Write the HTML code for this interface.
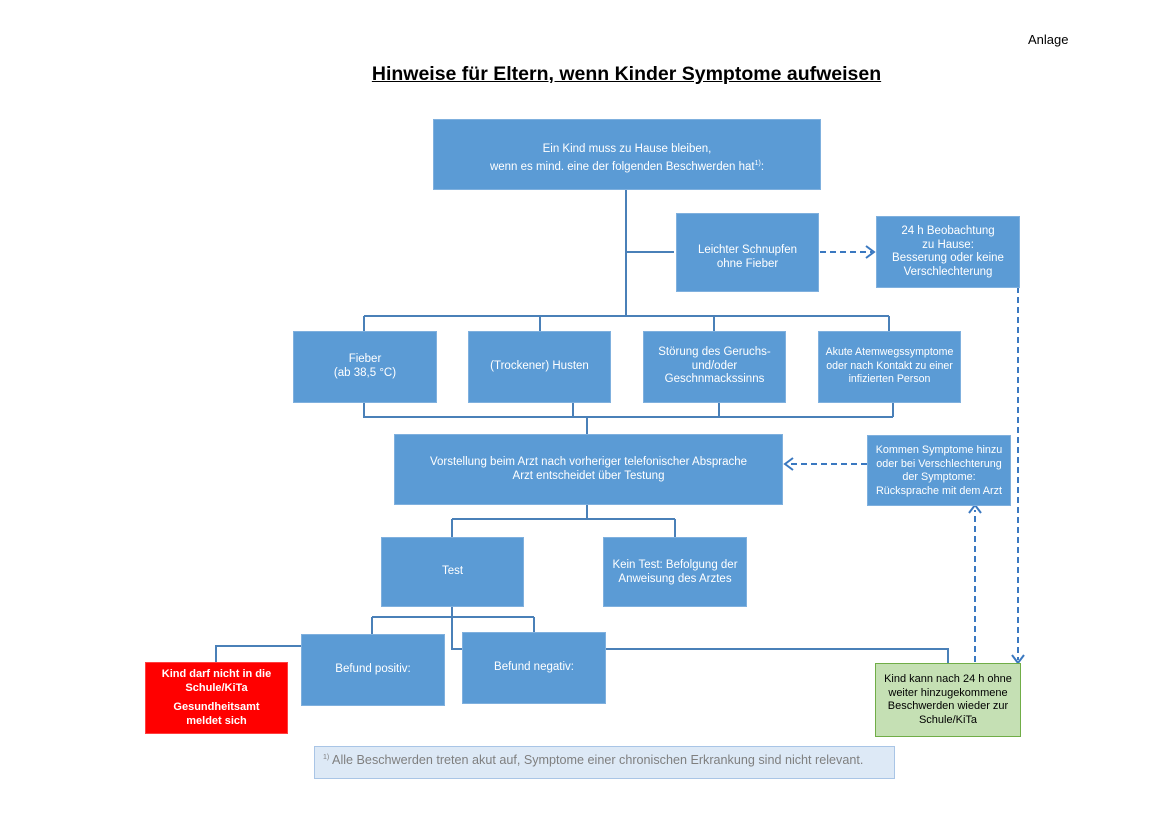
<!DOCTYPE html>
<html><head><meta charset="utf-8"><style>
body{margin:0;width:1169px;height:826px;background:#fff;position:relative;font-family:"Liberation Sans",sans-serif;overflow:hidden}
.b{position:absolute;background:#5b9bd5;border:1px solid #7fb0de;box-sizing:border-box;color:#fff;font-size:11.5px;line-height:13.5px;text-align:center;white-space:nowrap}
svg{position:absolute;left:0;top:0}
</style></head><body>
<div style="position:absolute;left:1028px;top:32px;font-size:13px">Anlage</div>
<div style="position:absolute;left:0;width:1253px;top:63px;text-align:center;font-size:19.5px;font-weight:bold;text-decoration:underline">Hinweise für Eltern, wenn Kinder Symptome aufweisen</div>
<svg width="1169" height="826">
<g stroke="#4a80b8" stroke-width="2" fill="none">
<path d="M626 189V316M626 252H674M364 316H889M364 316V331M540 316V331M714 316V331M889 316V331"/>
<path d="M364 402V417H893M573 402V417M719 402V417M893 402V417M587 417V434"/>
<path d="M587 504V519M452 519H675M452 519V537M675 519V537"/>
<path d="M452 606V649H462M372 617H534M372 617V634M534 617V632"/>
<path d="M301 646H216V662M605 649H948V663"/>
</g>
<g stroke="#3a78c0" stroke-width="2" fill="none" stroke-dasharray="6,4">
<path d="M820 252H872"/>
<path d="M1018 287V660"/>
<path d="M975 662V510"/>
<path d="M867 464H788"/>
</g>
<g stroke="#3a78c0" stroke-width="2" fill="none">
<path d="M866 246L874 252L866 258"/>
<path d="M1012 655L1018 663L1024 655"/>
<path d="M969 513L975 505L981 513"/>
<path d="M793 458L785 464L793 470"/>
</g>
</svg>
<div class="b" style="left:433px;top:119px;width:388px;height:71px;padding-top:23px">Ein Kind muss zu Hause bleiben,<br>wenn es mind. eine der folgenden Beschwerden hat<sup style="font-size:7px">1)</sup>:</div>
<div class="b" style="left:676px;top:213px;width:143px;height:79px;padding-top:30px">Leichter Schnupfen<br>ohne Fieber</div>
<div class="b" style="left:876px;top:216px;width:144px;height:72px;padding-top:8px">24 h Beobachtung<br>zu Hause:<br>Besserung oder keine<br>Verschlechterung</div>
<div class="b" style="left:293px;top:331px;width:144px;height:72px;padding-top:21px">Fieber<br>(ab 38,5 °C)</div>
<div class="b" style="left:468px;top:331px;width:143px;height:72px;padding-top:28px">(Trockener) Husten</div>
<div class="b" style="left:643px;top:331px;width:143px;height:72px;padding-top:14px">Störung des Geruchs-<br>und/oder<br>Geschnmackssinns</div>
<div class="b" style="left:818px;top:331px;width:143px;height:72px;padding-top:14px;font-size:10.6px">Akute Atemwegssymptome<br>oder nach Kontakt zu einer<br>infizierten Person</div>
<div class="b" style="left:394px;top:434px;width:389px;height:71px;padding-top:21px">Vorstellung beim Arzt nach vorheriger telefonischer Absprache<br>Arzt entscheidet über Testung</div>
<div class="b" style="left:867px;top:435px;width:144px;height:71px;padding-top:8px;font-size:10.8px">Kommen Symptome hinzu<br>oder bei Verschlechterung<br>der Symptome:<br>Rücksprache mit dem Arzt</div>
<div class="b" style="left:381px;top:537px;width:143px;height:70px;padding-top:27px">Test</div>
<div class="b" style="left:603px;top:537px;width:144px;height:70px;padding-top:21px">Kein Test: Befolgung der<br>Anweisung des Arztes</div>
<div class="b" style="left:301px;top:634px;width:144px;height:72px;padding-top:28px">Befund positiv:</div>
<div class="b" style="left:462px;top:632px;width:144px;height:72px;padding-top:28px">Befund negativ:</div>
<div class="b" style="left:145px;top:662px;width:143px;height:72px;padding-top:4px;background:#ff0000;border-color:#ff4040;font-weight:bold;line-height:14px;font-size:11px">Kind darf nicht in die<br>Schule/KiTa<div style="height:5px"></div>Gesundheitsamt<br>meldet sich</div>
<div class="b" style="left:875px;top:663px;width:146px;height:74px;padding-top:9px;background:#c5e0b4;border-color:#70ad47;color:#000;font-size:11px">Kind kann nach 24 h ohne<br>weiter hinzugekommene<br>Beschwerden wieder zur<br>Schule/KiTa</div>
<div style="position:absolute;left:314px;top:746px;width:581px;height:33px;box-sizing:border-box;background:#dde9f6;border:1.5px solid #a9c5e6;color:#7f7f7f;font-size:12.6px;padding:6px 0 0 8px;white-space:nowrap"><sup style="font-size:7px">1)</sup> Alle Beschwerden treten akut auf, Symptome einer chronischen Erkrankung sind nicht relevant.</div>
</body></html>
